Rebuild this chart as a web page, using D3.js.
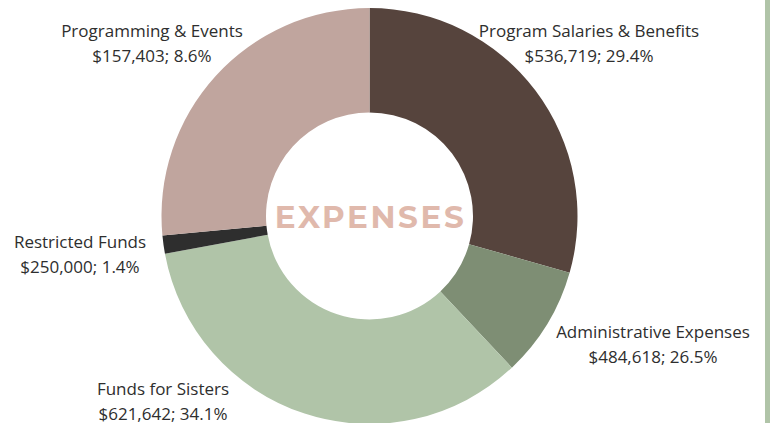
<!DOCTYPE html>
<html><head><meta charset="utf-8">
<script src="https://cdn.jsdelivr.net/npm/d3@7/dist/d3.min.js"></script>
<style>body{margin:0;background:#fff;}svg{display:block;}</style>
</head><body><svg id="c" width="770" height="423"></svg>
<script>
// Slices in drawing order (clockwise from top)
const sliceNames = ["Program Salaries & Benefits","Administrative Expenses","Funds for Sisters","Restricted Funds","Programming & Events"];
// arc shares as drawn in the reference (percent)
const sliceShares = [29.4, 8.6, 34.1, 1.4, 26.5];
const sliceColors = ["#56443d","#7e8e74","#b0c4a8","#2e2e2e","#c0a59e"];
// label texts as printed in the reference
const labelAmounts = ["$536,719","$484,618","$621,642","$250,000","$157,403"];
const labelPercents = ["29.4%","26.5%","34.1%","1.4%","8.6%"];
const labelPos = [[589,32],[653,333],[163,390],[80,243],[152,32]];

const svg = d3.select("#c");
const cx = 369.5, cy = 216, rOuter = 208, rInner = 103.5;

svg.append("rect").attr("x",765).attr("y",0).attr("width",5).attr("height",423).attr("fill","#b0c4a8");

const pie = d3.pie().sort(null).value(d=>d);
const arc = d3.arc().innerRadius(rInner).outerRadius(rOuter);
const g = svg.append("g").attr("transform",`translate(${cx},${cy})`);
g.selectAll("path").data(pie(sliceShares)).join("path")
  .attr("d",arc).attr("fill",(d,i)=>sliceColors[i]);

g.append("text").attr("x",1).attr("y",12).attr("text-anchor","middle")
  .attr("font-family","Montserrat, 'Open Sans', Lato, sans-serif").attr("font-weight",700)
  .attr("font-size",31).attr("letter-spacing",2.6).attr("fill","#e0b9ac").text("EXPENSES");

const lab = svg.append("g").attr("font-family","'Open Sans', sans-serif").attr("font-size",17).attr("fill","#2e2e2e").attr("text-anchor","middle");
sliceNames.forEach((n,i)=>{
  const t = lab.append("text").attr("x",labelPos[i][0]).attr("y",labelPos[i][1]).attr("dominant-baseline","middle");
  t.append("tspan").attr("x",labelPos[i][0]).attr("dy",0).text(n);
  t.append("tspan").attr("x",labelPos[i][0]).attr("dy",24.5).text(labelAmounts[i]+"; "+labelPercents[i]);
});
</script></body></html>
